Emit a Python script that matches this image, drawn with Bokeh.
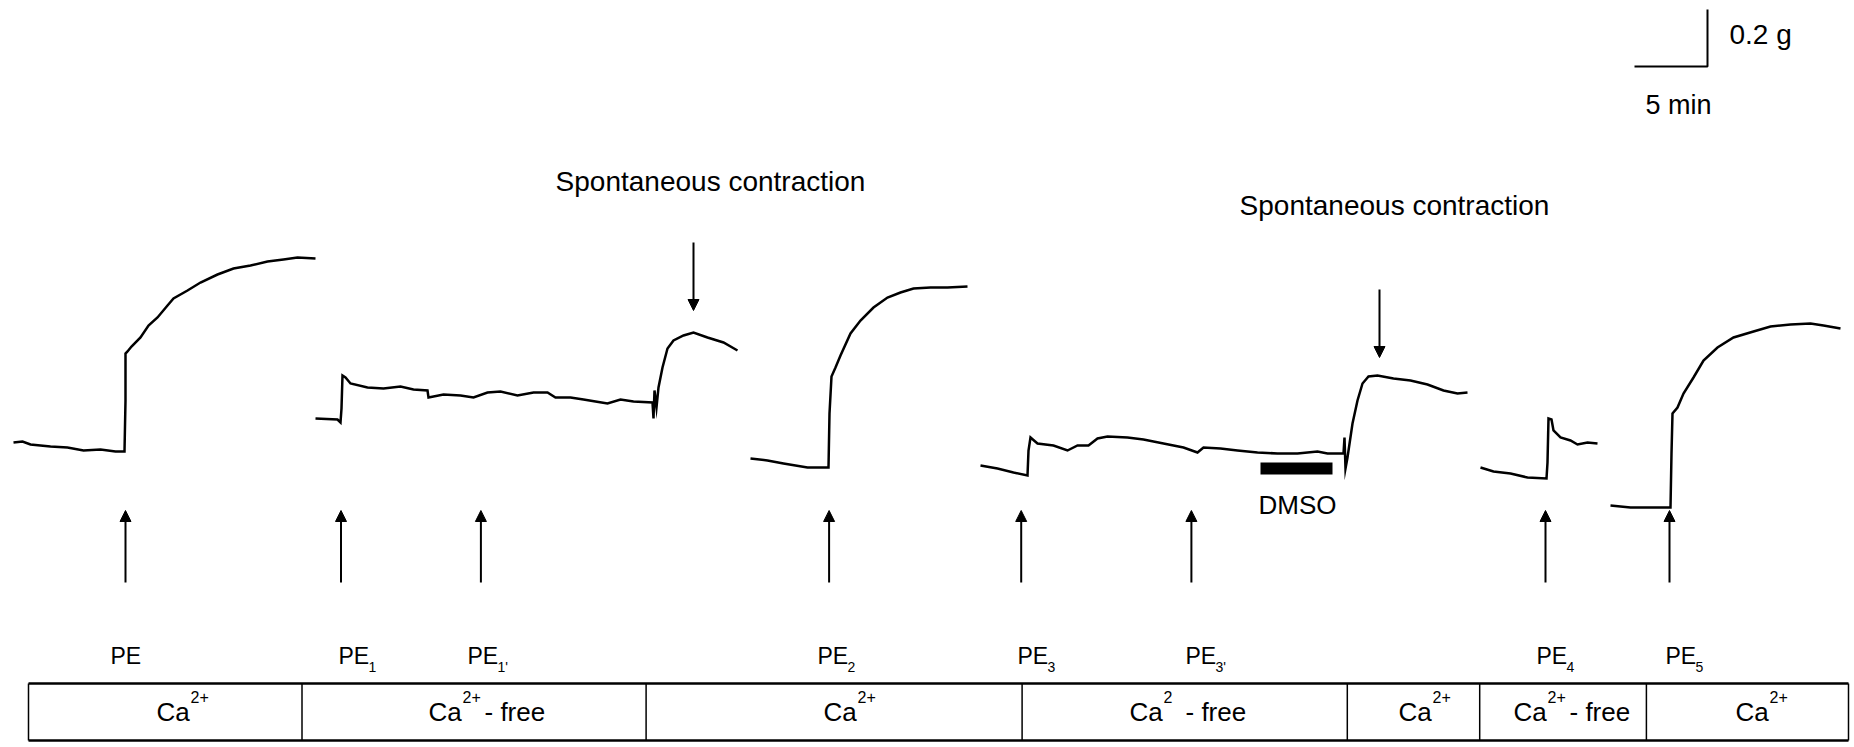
from bokeh.plotting import figure
from bokeh.models import Range1d, Arrow, NormalHead, ColumnDataSource
from bokeh.core.properties import value
from bokeh.embed import file_html
from bokeh.resources import INLINE

FONT = "Liberation Sans"

# ---------------- data: tension recordings (time units, tension units as read) -------------
rec1_t = [13, 22, 30, 50, 67, 83, 100, 115, 124, 125, 125, 127, 131, 140, 148, 157, 167, 173, 187,
          200, 217, 233, 250, 267, 283, 297, 315]
rec1_v = [442, 441, 444, 446, 447, 450, 449, 451, 451, 400, 353, 351, 346, 337, 325, 317, 305, 298,
          290, 282, 274, 268, 265, 261, 259, 257, 258]

rec2_t = [315, 337, 340, 341, 342, 345, 350, 367, 383, 400, 413, 427, 428, 443, 460, 473, 487, 500,
          517, 533, 547, 555, 570, 583, 595, 607, 620, 633, 652, 653, 654, 656, 658, 662, 667, 673,
          683, 693, 707, 723, 737]
rec2_v = [418, 419, 422, 408, 375, 377, 383, 387, 388, 386, 389, 390, 397, 394, 395, 397, 392, 391,
          395, 392, 392, 397, 397, 399, 401, 403, 399, 401, 402, 418, 390, 407, 387, 367, 348, 340,
          335, 332, 337, 342, 350]

rec3_t = [750, 767, 783, 807, 828, 829, 831, 835, 840, 850, 860, 873, 887, 900, 913, 930, 947, 967]
rec3_v = [458, 460, 463, 467, 467, 413, 376, 367, 355, 333, 320, 307, 297, 292, 288, 287, 287, 286]

rec4_t = [980, 997, 1013, 1027, 1028, 1030, 1037, 1053, 1067, 1077, 1088, 1097, 1107, 1127, 1143,
          1163, 1183, 1197, 1203, 1220, 1237, 1257, 1277, 1297, 1317, 1327, 1343, 1344, 1345, 1347,
          1352, 1357, 1362, 1368, 1377, 1393, 1410, 1427, 1443, 1457, 1467]
rec4_v = [465, 468, 472, 475, 450, 437, 443, 445, 450, 445, 445, 438, 436, 437, 439, 443, 447, 452,
          447, 448, 450, 452, 453, 453, 451, 453, 453, 437, 468, 457, 423, 400, 383, 376, 375, 378,
          380, 384, 390, 393, 392]

rec5_t = [1480, 1493, 1510, 1527, 1546, 1547, 1548, 1551, 1553, 1560, 1570, 1577, 1587, 1597]
rec5_v = [467, 471, 473, 477, 478, 462, 418, 419, 430, 437, 440, 444, 442, 443]

rec6_t = [1610, 1630, 1653, 1670, 1671, 1672, 1677, 1683, 1693, 1703, 1717, 1733, 1753, 1770, 1790,
          1810, 1823, 1840]
rec6_v = [505, 507, 507, 507, 453, 413, 407, 393, 377, 360, 347, 337, 331, 326, 324, 323, 325, 328]

# ---------------- events ----------------
pe_times = [125, 340.5, 480.4, 828.6, 1020.7, 1190.9, 1545, 1669]
pe_names = ["PE", "PE", "PE", "PE", "PE", "PE", "PE", "PE"]
pe_subs = ["", "1", "1'", "2", "3", "3'", "4", "5"]
pe_label_x = [110, 338, 467, 817, 1017, 1185, 1536, 1665]

spont_times = [693, 1379]
spont_label = "Spontaneous contraction"

dmso_start = [1260]
dmso_end = [1332]

phase_edges = [28, 301.5, 645.6, 1021.6, 1346.8, 1479.2, 1645.9, 1848]
phase_main = ["Ca", "Ca", "Ca", "Ca", "Ca", "Ca", "Ca"]
phase_sup = ["2+", "2+", "2+", "2", "2+", "2+", "2+"]
phase_tail = ["", "- free", "", "- free", "", "- free", ""]
phase_text_x = [156, 428, 823, 1129, 1398, 1513, 1735]

scale_time_label = "5 min"
scale_force_label = "0.2 g"

# ---------------- figure ----------------
W, H = 1852, 745
p = figure(width=W, height=H, x_range=Range1d(0, W), y_range=Range1d(H, 0),
           x_axis_type=None, y_axis_type=None, toolbar_location=None,
           output_backend="svg", min_border=0)
p.outline_line_color = None
p.background_fill_color = "white"
p.border_fill_color = "white"

# recordings
for tx, ty in [(rec1_t, rec1_v), (rec2_t, rec2_v), (rec3_t, rec3_v),
               (rec4_t, rec4_v), (rec5_t, rec5_v), (rec6_t, rec6_v)]:
    p.line(tx, ty, line_color="black", line_width=2.5, line_join="miter")

# scale bar
p.line([1634, 1707, 1707], [66, 66, 9], line_color="black", line_width=2)
p.text(x=[1729], y=[34], text=[scale_force_label], text_font=value(FONT),
       text_font_size=value("28px"), text_align="left", text_baseline="middle")
p.text(x=[1645], y=[104], text=[scale_time_label], text_font=value(FONT),
       text_font_size=value("27px"), text_align="left", text_baseline="middle")

# spontaneous contraction labels + down arrows
spont_label_y = [181, 205]
spont_arrow_top = [242, 289]
spont_arrow_tip = [310, 357]
spont_label_cx = [710, 1394]
p.text(x=spont_label_cx, y=spont_label_y, text=[spont_label] * 2, text_font=value(FONT),
       text_font_size=value("28px"), text_align="center", text_baseline="middle")
src_down = ColumnDataSource(dict(x0=spont_times, y0=spont_arrow_top, x1=spont_times, y1=spont_arrow_tip))
p.add_layout(Arrow(end=NormalHead(size=11, fill_color="black", line_color="black", line_width=1),
                   x_start="x0", y_start="y0", x_end="x1", y_end="y1", source=src_down,
                   line_color="black", line_width=2))

# PE arrows
src_up = ColumnDataSource(dict(x0=pe_times, y0=[582] * len(pe_times), x1=pe_times, y1=[510] * len(pe_times)))
p.add_layout(Arrow(end=NormalHead(size=11, fill_color="black", line_color="black", line_width=1),
                   x_start="x0", y_start="y0", x_end="x1", y_end="y1", source=src_up,
                   line_color="black", line_width=2))

# PE labels
p.text(x=pe_label_x, y=[655] * len(pe_label_x), text=pe_names, text_font=value(FONT),
       text_font_size=value("23px"), text_align="left", text_baseline="middle")
p.text(x=[x + 30 for x in pe_label_x], y=[666] * len(pe_label_x), text=pe_subs, text_font=value(FONT),
       text_font_size=value("14px"), text_align="left", text_baseline="middle")

# DMSO bar
p.quad(left=dmso_start, right=dmso_end, top=[462], bottom=[474], fill_color="black", line_color=None)
p.text(x=[1297], y=[504], text=["DMSO"], text_font=value(FONT),
       text_font_size=value("26px"), text_align="center", text_baseline="middle")

# phase table
top, bottom = 683, 740
p.line([phase_edges[0], phase_edges[-1]], [top, top], line_color="black", line_width=2.5)
p.line([phase_edges[0], phase_edges[-1]], [bottom, bottom], line_color="black", line_width=2.5)
p.segment(x0=phase_edges, y0=[top] * len(phase_edges), x1=phase_edges, y1=[bottom] * len(phase_edges),
          line_color="black", line_width=1.5)

p.text(x=phase_text_x, y=[711] * 7, text=phase_main, text_font=value(FONT),
       text_font_size=value("26px"), text_align="left", text_baseline="middle")
p.text(x=[x + 34 for x in phase_text_x], y=[696] * 7, text=phase_sup, text_font=value(FONT),
       text_font_size=value("16px"), text_align="left", text_baseline="middle")
p.text(x=[x + 56 for x in phase_text_x], y=[711] * 7, text=phase_tail, text_font=value(FONT),
       text_font_size=value("26px"), text_align="left", text_baseline="middle")

open("out.html", "w").write(file_html(p, INLINE))
